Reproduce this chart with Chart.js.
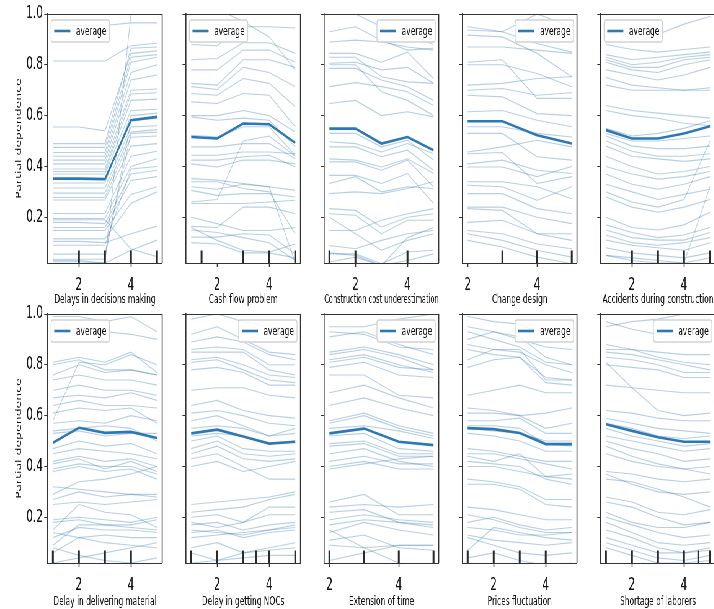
<!DOCTYPE html>
<html><head><meta charset="utf-8">
<script src="https://cdn.jsdelivr.net/npm/chart.js"></script>
<style>
html,body{margin:0;padding:0;background:#fff;overflow:hidden;width:714px;height:609px;}
#wrap{position:absolute;left:0;top:0;width:1180px;height:609px;transform:scaleX(0.62);transform-origin:0 0;}
.panel{position:absolute;}
</style></head><body><div id="wrap"></div>
<script>
// ---------- data ----------
const featureNames = ['Delays in decisions making','Cash flow problem','Construction cost underestimation','Change design','Accidents during construction','Delay in delivering material','Delay in getting NOCs','Extension of time','Prices fluctuation','Shortage of laborers'];
const yAxisTitle = 'Partial dependence';
const legendLabel = 'average';
const gridOneToFive = [1,2,3,4,5];
const gridTwoToFive = [2,3,4,5];
const xTickValues = [2,4];
const yTickValues = [0.2,0.4,0.6,0.8,1.0];
const yLimits = [0.02, 1.0];

const avgDelaysDecisions = [0.352,0.352,0.35,0.582,0.595];
const avgCashFlow = [0.516,0.51,0.569,0.566,0.493];
const avgCostUnder = [0.549,0.549,0.49,0.516,0.464];
const avgChangeDesign = [0.578,0.578,0.523,0.49];
const avgAccidents = [0.543,0.51,0.51,0.53,0.558];
const avgDeliveringMaterial = [0.493,0.552,0.532,0.536,0.512];
const avgNocs = [0.53,0.545,0.518,0.49,0.497];
const avgExtension = [0.53,0.549,0.497,0.484];
const avgPrices = [0.551,0.547,0.532,0.488,0.488];
const avgShortage = [0.566,0.54,0.515,0.497,0.497];

const decDelaysDecisions = [2,3,4,5];
const decCashFlow = [1.4,3,4,5];
const decCostUnder = [1,2,4];
const decChangeDesign = [3,4,5];
const decAccidents = [2,3,4,5];
const decDeliveringMaterial = [1,2,3,4];
const decNocs = [1,2,3,3.5,4,5];
const decExtension = [2,3,4,5];
const decPrices = [1,2,3,4];
const decShortage = [1,2,3,4,4.55,5];

const iceDelaysDecisions = [
[0.955,0.955,0.955,0.965,0.965],[0.815,0.815,0.815,0.875,0.885],[0.555,0.555,0.54,0.845,0.855],
[0.49,0.49,0.49,0.865,0.87],[0.475,0.475,0.475,0.83,0.84],[0.455,0.455,0.455,0.81,0.83],
[0.44,0.44,0.44,0.77,0.80],[0.425,0.425,0.425,0.74,0.76],[0.41,0.41,0.41,0.70,0.705],
[0.39,0.39,0.39,0.685,0.69],[0.38,0.38,0.38,0.66,0.665],[0.37,0.37,0.37,0.62,0.625],
[0.335,0.335,0.335,0.60,0.61],[0.315,0.315,0.315,0.555,0.56],[0.295,0.295,0.295,0.535,0.545],
[0.278,0.278,0.278,0.515,0.52],[0.268,0.268,0.268,0.48,0.49],[0.215,0.215,0.215,0.44,0.46],
[0.195,0.195,0.195,0.40,0.43],[0.18,0.18,0.175,0.37,0.385],[0.16,0.16,0.16,0.345,0.36],
[0.148,0.148,0.148,0.29,0.32],[0.115,0.115,0.115,0.255,0.30],[0.105,0.105,0.10,0.135,0.165],
[0.09,0.09,0.09,0.39,0.40],[0.055,0.055,0.055,0.53,0.535],[0.035,0.035,0.035,0.58,0.59],
[0.025,0.025,0.02,0.07,0.11],[0.19,0.19,0.19,0.075,0.045],[0.03,0.03,0.02,1.0,1.02]
];
const iceCashFlow = [
[0.88,0.875,0.95,0.95,0.945],[1.05,1.02,0.97,0.91,0.78],[0.82,0.825,0.887,0.887,0.845],
[0.78,0.78,0.858,0.858,0.81],[0.727,0.72,0.82,0.82,0.79],[0.714,0.703,0.79,0.77,0.714],
[0.687,0.68,0.746,0.727,0.635],[0.654,0.648,0.687,0.68,0.556],[0.60,0.60,0.62,0.60,0.536],
[0.595,0.582,0.59,0.582,0.477],[0.523,0.516,0.556,0.556,0.444],[0.477,0.477,0.49,0.49,0.43],
[0.444,0.444,0.457,0.457,0.45],[0.425,0.425,0.438,0.444,0.398],[0.41,0.398,0.425,0.425,0.41],
[0.352,0.346,0.333,0.32,0.306],[0.34,0.34,0.313,0.30,0.135],[0.306,0.286,0.293,0.293,0.28],
[0.254,0.254,0.254,0.26,0.267],[0.26,0.27,0.50,0.52,0.44],[0.20,0.175,0.148,0.148,0.16],
[0.164,0.16,0.24,0.24,0.214],[0.16,0.109,0.07,0.063,0.095],[0.122,0.122,0.135,0.13,0.056],
[0.10,0.095,0.06,0.06,0.04],[0.32,0.31,0.33,0.32,0.02],[0.15,0.14,0.12,0.10,0.03]
];
const iceCostUnder = [
[1.02,1.0,0.95,0.92,0.88],[0.93,0.95,0.897,0.858,0.865],[0.89,0.897,0.89,0.87,0.858],
[0.845,0.845,0.81,0.85,0.746],[0.83,0.83,0.753,0.733,0.727],[0.806,0.81,0.78,0.79,0.727],
[0.80,0.80,0.694,0.66,0.60],[0.786,0.786,0.74,0.714,0.66],[0.714,0.73,0.714,0.694,0.64],
[0.648,0.66,0.60,0.615,0.595],[0.53,0.53,0.477,0.503,0.425],[0.497,0.49,0.457,0.49,0.45],
[0.477,0.477,0.438,0.464,0.385],[0.43,0.425,0.398,0.43,0.372],[0.418,0.418,0.385,0.425,0.32],
[0.365,0.365,0.333,0.372,0.254],[0.333,0.36,0.30,0.32,0.313],[0.293,0.30,0.293,0.313,0.34],
[0.234,0.227,0.162,0.20,0.214],[0.214,0.208,0.135,0.188,0.188],[0.20,0.135,0.07,0.109,0.135],
[0.148,0.148,0.188,0.214,0.234],[0.089,0.076,0.109,0.135,0.148],[0.056,0.056,0.017,0.063,0.07],
[0.024,0.043,0.01,0.03,0.056],[0.06,0.05,0.01,0.12,0.16]
];
const iceChangeDesign = [
[0.95,0.93,0.884,0.85],[0.937,0.93,1.0,0.95],[0.917,0.91,0.845,0.753],[0.87,0.87,0.858,0.845],
[0.81,0.82,0.668,0.668],[0.80,0.80,0.766,0.714],[0.72,0.727,0.746,0.753],[0.70,0.707,0.68,0.69],
[0.68,0.674,0.608,0.60],[0.615,0.62,0.582,0.556],[0.556,0.556,0.53,0.516],[0.53,0.53,0.438,0.425],
[0.457,0.477,0.503,0.477],[0.45,0.455,0.333,0.36],[0.41,0.425,0.385,0.372],[0.398,0.398,0.36,0.40],
[0.34,0.34,0.32,0.273],[0.326,0.32,0.267,0.32],[0.293,0.293,0.234,0.214],[0.24,0.24,0.20,0.175],
[0.234,0.227,0.135,0.109],[0.18,0.188,0.135,0.135],[0.148,0.135,0.095,0.076],[0.135,0.109,0.07,0.043],
[0.109,0.083,0.043,0.017]
];
const iceAccidents = [
[0.93,0.91,0.92,0.96,0.99],[0.88,0.86,0.85,0.86,0.87],[0.84,0.82,0.83,0.84,0.85],
[0.83,0.80,0.81,0.83,0.84],[0.82,0.79,0.79,0.82,0.83],[0.81,0.78,0.77,0.80,0.82],
[0.78,0.76,0.74,0.76,0.79],[0.75,0.72,0.71,0.70,0.71],[0.72,0.70,0.70,0.70,0.70],
[0.64,0.62,0.61,0.60,0.59],[0.62,0.60,0.59,0.57,0.56],[0.55,0.52,0.53,0.55,0.58],
[0.53,0.50,0.50,0.51,0.52],[0.52,0.48,0.47,0.47,0.48],[0.50,0.46,0.44,0.44,0.45],
[0.48,0.44,0.43,0.42,0.43],[0.30,0.26,0.24,0.27,0.50],[0.44,0.40,0.37,0.38,0.40],
[0.40,0.37,0.35,0.36,0.38],[0.37,0.33,0.31,0.33,0.36],[0.33,0.30,0.27,0.29,0.31],
[0.28,0.24,0.22,0.24,0.27],[0.20,0.16,0.15,0.17,0.22],[0.17,0.14,0.12,0.13,0.16],
[0.15,0.12,0.11,0.11,0.14],[0.13,0.10,0.09,0.10,0.12],[0.11,0.09,0.08,0.07,0.10],
[0.08,0.06,0.05,0.04,0.06],[0.05,0.03,0.02,0.02,0.04],[0.05,0.04,0.03,0.02,0.32]
];
const iceDeliveringMaterial = [
[0.99,0.99,0.97,0.99,0.93],[0.90,0.95,0.93,0.92,0.90],[0.81,0.83,0.81,0.85,0.77],
[0.80,0.82,0.78,0.78,0.76],[0.76,0.80,0.77,0.78,0.76],[0.74,0.76,0.74,0.74,0.72],
[0.58,0.81,0.80,0.84,0.80],[0.70,0.72,0.70,0.70,0.68],[0.67,0.68,0.67,0.69,0.66],
[0.64,0.66,0.64,0.64,0.63],[0.61,0.63,0.62,0.63,0.57],[0.57,0.58,0.57,0.60,0.58],
[0.54,0.55,0.56,0.55,0.50],[0.53,0.54,0.52,0.53,0.53],[0.47,0.50,0.48,0.49,0.45],
[0.45,0.47,0.46,0.45,0.43],[0.42,0.44,0.42,0.43,0.40],[0.41,0.43,0.39,0.42,0.38],
[0.39,0.41,0.40,0.40,0.37],[0.38,0.40,0.38,0.39,0.35],[0.32,0.31,0.30,0.29,0.28],
[0.29,0.34,0.35,0.37,0.40],[0.27,0.30,0.28,0.29,0.29],[0.25,0.26,0.25,0.26,0.27],
[0.19,0.20,0.19,0.18,0.20],[0.18,0.19,0.17,0.17,0.19],[0.15,0.25,0.22,0.21,0.16],
[0.14,0.12,0.13,0.12,0.12],[0.12,0.16,0.15,0.15,0.14],[0.09,0.17,0.17,0.16,0.15],
[0.06,0.12,0.10,0.09,0.08],[0.08,0.05,0.03,0.02,0.04],[0.02,0.04,0.06,0.08,0.10]
];
const iceNocs = [
[0.98,1.0,0.97,0.95,0.94],[0.92,0.95,0.90,0.85,0.84],[0.89,0.91,0.89,0.84,0.82],
[0.86,0.87,0.86,0.80,0.80],[0.85,0.85,0.85,0.78,0.76],[0.82,0.83,0.80,0.76,0.75],
[0.81,0.82,0.78,0.74,0.73],[0.78,0.79,0.77,0.72,0.72],[0.70,0.71,0.71,0.68,0.67],
[0.64,0.66,0.62,0.60,0.59],[0.61,0.62,0.60,0.57,0.56],[0.58,0.60,0.56,0.52,0.55],
[0.55,0.56,0.55,0.52,0.53],[0.52,0.53,0.52,0.49,0.50],[0.50,0.52,0.47,0.46,0.46],
[0.47,0.50,0.45,0.44,0.45],[0.45,0.48,0.43,0.42,0.43],[0.43,0.45,0.40,0.35,0.35],
[0.40,0.42,0.38,0.40,0.42],[0.25,0.26,0.27,0.28,0.30],[0.22,0.23,0.24,0.27,0.29],
[0.20,0.21,0.18,0.24,0.24],[0.18,0.16,0.18,0.21,0.21],[0.17,0.18,0.15,0.17,0.18],
[0.15,0.14,0.13,0.15,0.17],[0.14,0.15,0.12,0.14,0.15],[0.12,0.13,0.14,0.15,0.16],
[0.08,0.10,0.06,0.08,0.10],[0.06,0.03,0.06,0.07,0.08],[0.02,0.03,0.04,0.05,0.05]
];
const iceExtension = [
[0.95,0.95,0.98,1.0],[0.93,0.92,0.87,0.86],[0.91,0.93,0.88,0.84],[0.85,0.87,0.84,0.80],
[0.84,0.86,0.83,0.78],[0.82,0.84,0.80,0.77],[0.81,0.83,0.79,0.78],[0.79,0.81,0.76,0.75],
[0.76,0.76,0.68,0.67],[0.69,0.72,0.67,0.63],[0.64,0.67,0.63,0.60],[0.58,0.61,0.56,0.53],
[0.57,0.60,0.55,0.52],[0.55,0.56,0.54,0.51],[0.52,0.53,0.47,0.46],[0.49,0.50,0.45,0.45],
[0.48,0.49,0.44,0.44],[0.45,0.47,0.42,0.40],[0.42,0.44,0.41,0.41],[0.40,0.42,0.39,0.39],
[0.39,0.41,0.43,0.44],[0.26,0.29,0.21,0.21],[0.24,0.25,0.24,0.25],[0.22,0.23,0.18,0.17],
[0.19,0.21,0.19,0.18],[0.17,0.19,0.18,0.16],[0.14,0.18,0.15,0.13],[0.11,0.13,0.08,0.07],
[0.09,0.08,0.09,0.09],[0.03,0.06,0.09,0.09],[0.15,0.08,0.02,0.0]
];
const icePrices = [
[0.99,0.97,0.96,0.92,0.91],[0.95,0.93,0.90,0.87,0.86],[0.93,0.90,0.87,0.81,0.80],
[0.90,0.93,0.91,0.83,0.80],[0.88,0.86,0.85,0.80,0.77],[0.86,0.84,0.83,0.75,0.74],
[0.82,0.86,0.86,0.74,0.74],[0.79,0.82,0.83,0.73,0.72],[0.68,0.70,0.72,0.69,0.69],
[0.63,0.62,0.60,0.61,0.63],[0.61,0.61,0.60,0.55,0.57],[0.58,0.58,0.59,0.53,0.53],
[0.56,0.56,0.55,0.49,0.48],[0.55,0.54,0.53,0.50,0.50],[0.53,0.52,0.50,0.46,0.46],
[0.47,0.46,0.44,0.42,0.42],[0.45,0.45,0.43,0.41,0.39],[0.44,0.42,0.45,0.36,0.37],
[0.42,0.41,0.40,0.35,0.33],[0.40,0.40,0.38,0.36,0.35],[0.35,0.34,0.32,0.27,0.27],
[0.33,0.33,0.31,0.25,0.24],[0.24,0.23,0.21,0.19,0.19],[0.21,0.19,0.16,0.14,0.14],
[0.18,0.20,0.17,0.15,0.16],[0.16,0.15,0.13,0.13,0.14],[0.13,0.11,0.10,0.09,0.10],
[0.12,0.09,0.06,0.05,0.06],[0.07,0.16,0.14,0.12,0.11],[0.04,0.06,0.03,0.01,0.02]
];
const iceShortage = [
[0.97,0.94,0.92,0.91,0.91],[0.95,0.97,0.98,1.0,1.0],[0.88,0.86,0.83,0.81,0.80],
[0.86,0.86,0.85,0.84,0.84],[0.85,0.84,0.82,0.80,0.78],[0.83,0.82,0.80,0.77,0.77],
[0.81,0.71,0.62,0.60,0.61],[0.80,0.79,0.78,0.75,0.75],[0.72,0.71,0.70,0.69,0.69],
[0.62,0.61,0.59,0.58,0.58],[0.59,0.57,0.55,0.54,0.53],[0.57,0.55,0.52,0.51,0.52],
[0.55,0.52,0.50,0.48,0.49],[0.52,0.50,0.48,0.46,0.47],[0.50,0.47,0.45,0.42,0.43],
[0.48,0.44,0.41,0.39,0.37],[0.45,0.42,0.40,0.39,0.40],[0.38,0.37,0.35,0.34,0.35],
[0.37,0.33,0.30,0.29,0.30],[0.35,0.34,0.31,0.28,0.24],[0.28,0.26,0.22,0.21,0.23],
[0.26,0.24,0.20,0.17,0.18],[0.22,0.18,0.16,0.16,0.18],[0.20,0.17,0.14,0.12,0.13],
[0.18,0.14,0.10,0.09,0.10],[0.15,0.12,0.08,0.06,0.07],[0.12,0.09,0.06,0.06,0.08],
[0.10,0.07,0.04,0.03,0.05],[0.08,0.05,0.02,0.02,0.03]
];

// ---------- panel table built from the arrays ----------
const panels = [
  {name: featureNames[0], grid: gridOneToFive, avg: avgDelaysDecisions, ice: iceDelaysDecisions, deciles: decDelaysDecisions, legendSide: 'left'},
  {name: featureNames[1], grid: gridOneToFive, avg: avgCashFlow, ice: iceCashFlow, deciles: decCashFlow, legendSide: 'left'},
  {name: featureNames[2], grid: gridOneToFive, avg: avgCostUnder, ice: iceCostUnder, deciles: decCostUnder, legendSide: 'right'},
  {name: featureNames[3], grid: gridTwoToFive, avg: avgChangeDesign, ice: iceChangeDesign, deciles: decChangeDesign, legendSide: 'right'},
  {name: featureNames[4], grid: gridOneToFive, avg: avgAccidents, ice: iceAccidents, deciles: decAccidents, legendSide: 'left'},
  {name: featureNames[5], grid: gridOneToFive, avg: avgDeliveringMaterial, ice: iceDeliveringMaterial, deciles: decDeliveringMaterial, legendSide: 'left'},
  {name: featureNames[6], grid: gridOneToFive, avg: avgNocs, ice: iceNocs, deciles: decNocs, legendSide: 'right'},
  {name: featureNames[7], grid: gridTwoToFive, avg: avgExtension, ice: iceExtension, deciles: decExtension, legendSide: 'right'},
  {name: featureNames[8], grid: gridOneToFive, avg: avgPrices, ice: icePrices, deciles: decPrices, legendSide: 'right'},
  {name: featureNames[9], grid: gridOneToFive, avg: avgShortage, ice: iceShortage, deciles: decShortage, legendSide: 'right'}
];

// ---------- styling / layout ----------
const FONT = '"DejaVu Sans", sans-serif';
const ICE_COLOR = 'rgba(45,115,175,0.34)';
const AVG_COLOR = '#2b78b4';
const AXIS_COLOR = '#333333';
const TEXT_COLOR = '#111111';
const CW = 282, PAD_L = 23, Y_W = 53.9, PLOT_W = 184.7, COL_STEP = 223.1;
const ROWS = [{top: 0, h: 307, xH: 44}, {top: 300, h: 309, xH: 46}];

const framePlugin = {
  id: 'frame',
  afterDatasetsDraw(chart) {
    const {ctx, chartArea: a} = chart;
    ctx.save();
    ctx.strokeStyle = AXIS_COLOR;
    ctx.lineWidth = 1;
    ctx.beginPath(); ctx.moveTo(a.left, a.top + 0.5); ctx.lineTo(a.right, a.top + 0.5); ctx.stroke();
    ctx.lineWidth = 1.6;
    ctx.beginPath(); ctx.moveTo(a.right, a.top); ctx.lineTo(a.right, a.bottom); ctx.stroke();
    ctx.restore();
  }
};

function makeLegendPlugin(side) {
  return {
    id: 'avgLegend',
    afterDatasetsDraw(chart) {
      const {ctx, chartArea: a} = chart;
      const ds = chart.data.datasets.find(d => d.label === legendLabel);
      ctx.save();
      ctx.font = '12px ' + FONT;
      const tw = ctx.measureText(ds.label).width;
      const w = 40 + tw + 5, h = 22;
      const x = side === 'left' ? a.left + 5.5 : a.right - 5.5 - w;
      const y = a.top + 6;
      const r = 3;
      ctx.beginPath();
      ctx.moveTo(x + r, y); ctx.lineTo(x + w - r, y); ctx.quadraticCurveTo(x + w, y, x + w, y + r);
      ctx.lineTo(x + w, y + h - r); ctx.quadraticCurveTo(x + w, y + h, x + w - r, y + h);
      ctx.lineTo(x + r, y + h); ctx.quadraticCurveTo(x, y + h, x, y + h - r);
      ctx.lineTo(x, y + r); ctx.quadraticCurveTo(x, y, x + r, y); ctx.closePath();
      ctx.fillStyle = 'rgba(255,255,255,0.85)';
      ctx.fill();
      ctx.strokeStyle = '#d2d2d2'; ctx.lineWidth = 1.3; ctx.stroke();
      ctx.strokeStyle = ds.borderColor; ctx.lineWidth = 2.6;
      ctx.beginPath(); ctx.moveTo(x + 5, y + h / 2); ctx.lineTo(x + 31, y + h / 2); ctx.stroke();
      ctx.fillStyle = TEXT_COLOR; ctx.textBaseline = 'middle'; ctx.textAlign = 'left';
      ctx.fillText(ds.label, x + 40, y + h / 2 + 0.5);
      ctx.restore();
    }
  };
}

const wrap = document.getElementById('wrap');
panels.forEach((p, i) => {
  const col = i % 5, row = Math.floor(i / 5);
  const R = ROWS[row];
  const div = document.createElement('div');
  div.className = 'panel';
  div.style.left = (COL_STEP * col) + 'px';
  div.style.top = R.top + 'px';
  div.style.width = CW + 'px';
  div.style.height = R.h + 'px';
  const cv = document.createElement('canvas');
  cv.width = CW; cv.height = R.h;
  cv.style.width = CW + 'px'; cv.style.height = R.h + 'px';
  div.appendChild(cv);
  wrap.appendChild(div);

  const g0 = p.grid[0], g1 = p.grid[p.grid.length - 1];
  const span = g1 - g0;
  const xmin = g0 - 0.05 * span, xmax = g1 + 0.05 * span;
  const [ymin, ymax] = yLimits;
  const rugTop = ymin + 0.05 * (ymax - ymin);

  const datasets = [];
  p.ice.forEach(line => datasets.push({
    label: '', data: line.map((v, k) => ({x: p.grid[k], y: v})),
    borderColor: ICE_COLOR, borderWidth: 1.1, pointRadius: 0, tension: 0, order: 2
  }));
  datasets.push({
    label: legendLabel, data: p.avg.map((v, k) => ({x: p.grid[k], y: v})),
    borderColor: AVG_COLOR, borderWidth: 2.6, pointRadius: 0, tension: 0, order: 1
  });
  p.deciles.forEach(d => datasets.push({
    label: '', data: [{x: d, y: ymin}, {x: d, y: rugTop}],
    borderColor: '#2a2a2a', borderWidth: 3, pointRadius: 0, order: 0
  }));

  new Chart(cv, {
    type: 'line',
    data: {datasets},
    options: {
      responsive: false, animation: false, events: [],
      layout: {padding: {left: PAD_L, right: CW - PAD_L - Y_W - PLOT_W, top: 14, bottom: 0}},
      plugins: {legend: {display: false}, tooltip: {enabled: false}},
      scales: {
        x: {
          type: 'linear', min: xmin, max: xmax,
          afterBuildTicks: s => { s.ticks = xTickValues.map(v => ({value: v})); },
          afterFit: s => { s.height = R.xH; },
          grid: {drawOnChartArea: false, drawTicks: true, tickLength: 4, tickWidth: 1.6, tickColor: AXIS_COLOR},
          border: {display: true, color: AXIS_COLOR, width: 1},
          ticks: {font: {family: FONT, size: 17}, color: TEXT_COLOR, padding: 8, maxRotation: 0, autoSkip: false,
                  callback: v => String(v)},
          title: {display: true, text: p.name, font: {family: FONT, size: 12}, color: TEXT_COLOR, padding: 0}
        },
        y: {
          type: 'linear', min: ymin, max: ymax,
          afterBuildTicks: s => { s.ticks = yTickValues.map(v => ({value: v})); },
          afterFit: s => { s.width = Y_W; },
          grid: {drawOnChartArea: false, drawTicks: true, tickLength: 5.6, tickWidth: 1, tickColor: AXIS_COLOR},
          border: {display: true, color: AXIS_COLOR, width: 1.6},
          ticks: {font: {family: FONT, size: 17}, color: TEXT_COLOR, padding: 2, autoSkip: false,
                  callback: v => col === 0 ? Number(v).toFixed(1) : ''},
          title: {display: col === 0, text: yAxisTitle, font: {family: FONT, size: 12.5}, color: TEXT_COLOR, padding: 0}
        }
      }
    },
    plugins: [framePlugin, makeLegendPlugin(p.legendSide)]
  });
});
</script></body></html>
